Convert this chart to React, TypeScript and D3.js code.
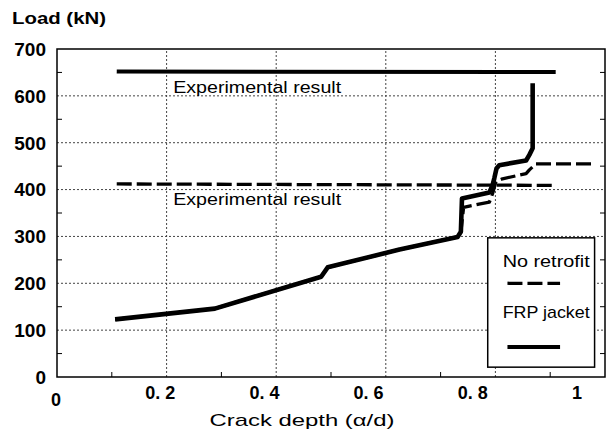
import React from "react";
import * as d3 from "d3";

// ---- data ----
const frpX = [0.106, 0.288, 0.482, 0.494, 0.625, 0.731, 0.737, 0.739, 0.789, 0.795, 0.798, 0.802, 0.807, 0.856, 0.862, 0.868, 0.868];
const frpY = [123, 146, 214, 234, 272, 299, 310, 381, 394, 410, 424, 445, 452, 462, 474, 488, 627];
const noRetroX = [0.106, 0.288, 0.482, 0.494, 0.625, 0.731, 0.737, 0.742, 0.770, 0.789, 0.795, 0.801, 0.813, 0.856, 0.862, 0.874, 0.982];
const noRetroY = [123, 146, 214, 234, 272, 299, 310, 362, 369, 373, 392, 417, 423, 434, 442, 455, 455];
const expFrpX = [0.109, 0.910];
const expFrpY = [652, 651];
const expNoX = [0.109, 0.908];
const expNoY = [412, 409];
const xTicks = [0, 0.2, 0.4, 0.6, 0.8, 1];
const xTickLabels = ["0", "0. 2", "0. 4", "0. 6", "0. 8", "1"];
const xMinor = [0.1, 0.3, 0.5, 0.7, 0.9];
const yTicks = [0, 100, 200, 300, 400, 500, 600, 700];
const yMinor = [50, 150, 250, 350, 450, 550, 650];
const expLabels = ["Experimental result", "Experimental result"];
const expLabelAt = [606, 367];
const legendLabels = ["No retrofit", "FRP jacket"];

const FONT = "'Liberation Sans', Arial, Helvetica, sans-serif";

export default function App() {
  const W = 609, H = 448;
  const x = d3.scaleLinear().domain([0, 1]).range([57, 605]);
  const xLab = d3.scaleLinear().domain([0, 1]).range([56, 577]);
  const y = d3.scaleLinear().domain([0, 700]).range([377, 49]);

  const line = d3.line<[number, number]>().x(d => x(d[0])).y(d => y(d[1]));
  const zip = (a: number[], b: number[]) => a.map((v, i) => [v, b[i]] as [number, number]);

  const dash = "15,5";
  const gridStyle = { stroke: "#444", strokeWidth: 1, strokeDasharray: "2,2" };

  return (
    <svg width={W} height={H} style={{ position: "absolute", left: 0, top: 0, background: "#fff" }} fontFamily={FONT}>
      <rect x={0} y={0} width={W} height={H} fill="#fff" />
      {/* grid */}
      {yTicks.filter(t => t > 0 && t < 700).map(t => (
        <line key={"gy" + t} x1={x(0)} x2={x(1)} y1={y(t)} y2={y(t)} {...gridStyle} />
      ))}
      {xTicks.filter(t => t > 0 && t < 1).map(t => (
        <line key={"gx" + t} x1={x(t)} x2={x(t)} y1={y(0)} y2={y(700)} {...gridStyle} />
      ))}
      {/* minor ticks */}
      {yMinor.map(t => (
        <g key={"ym" + t}>
          <line x1={x(0)} x2={x(0) + 5} y1={y(t)} y2={y(t)} stroke="#000" strokeWidth={1} />
          <line x1={x(1)} x2={x(1) - 5} y1={y(t)} y2={y(t)} stroke="#000" strokeWidth={1} />
        </g>
      ))}
      {xMinor.map(t => (
        <line key={"xm" + t} x1={x(t)} x2={x(t)} y1={y(0)} y2={y(0) - 5} stroke="#000" strokeWidth={1} />
      ))}
      {/* frame */}
      <rect x={x(0)} y={y(700)} width={x(1) - x(0)} height={y(0) - y(700)} fill="none" stroke="#000" strokeWidth={1.5} />

      {/* experimental lines */}
      <path d={line(zip(expFrpX, expFrpY)) || ""} fill="none" stroke="#000" strokeWidth={4} />
      <path d={line(zip(expNoX, expNoY)) || ""} fill="none" stroke="#000" strokeWidth={3.3} strokeDasharray={dash} />
      {expLabels.map((s, i) => (
        <text key={"el" + i} x={x(0.212)} y={y(expLabelAt[i])} fontSize={17} textLength={168} lengthAdjust="spacingAndGlyphs" fill="#000">{s}</text>
      ))}

      {/* series */}
      <path d={line(zip(noRetroX, noRetroY)) || ""} fill="none" stroke="#000" strokeWidth={3.3} strokeDasharray={dash} strokeLinejoin="round" />
      <path d={line(zip(frpX, frpY)) || ""} fill="none" stroke="#000" strokeWidth={4.6} strokeLinejoin="round" />

      {/* legend */}
      <rect x={x(0.786)} y={y(297)} width={x(0.981) - x(0.786)} height={y(21) - y(297)} fill="#fff" stroke="#000" strokeWidth={1.5} />
      <text x={x(0.983) - 6} y={y(235)} fontSize={17} textAnchor="end" textLength={87} lengthAdjust="spacingAndGlyphs">{legendLabels[0]}</text>
      <line x1={x(0.822)} x2={x(0.918)} y1={y(200)} y2={y(200)} stroke="#000" strokeWidth={3.3} strokeDasharray={dash} />
      <text x={x(0.983) - 6} y={y(125)} fontSize={17} textAnchor="end" textLength={87} lengthAdjust="spacingAndGlyphs">{legendLabels[1]}</text>
      <line x1={x(0.822)} x2={x(0.918)} y1={y(64)} y2={y(64)} stroke="#000" strokeWidth={4} />

      {/* y tick labels */}
      {yTicks.map(t => (
        <text key={"yl" + t} x={46} y={y(t)} dy="0.36em" fontSize={19} fontWeight="bold" textAnchor="end">{t}</text>
      ))}
      {/* x tick labels */}
      {xTicks.map((t, i) => (
        <text key={"xl" + t} x={xLab(t)} y={i === 0 ? 406 : 399} fontSize={18} fontWeight="bold" textAnchor="middle">{xTickLabels[i]}</text>
      ))}
      {/* axis titles */}
      <text x={12} y={24} fontSize={17} fontWeight="bold" textLength={94} lengthAdjust="spacingAndGlyphs">Load (kN)</text>
      <text x={302} y={426} fontSize={17} textAnchor="middle" textLength={185} lengthAdjust="spacingAndGlyphs">Crack depth (α/d)</text>
    </svg>
  );
}
